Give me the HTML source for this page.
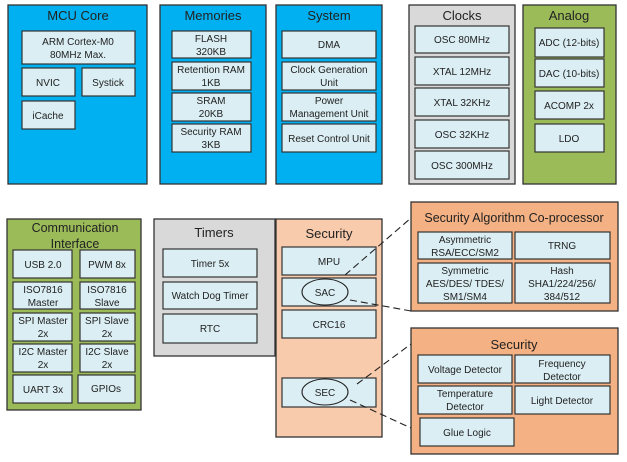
<!DOCTYPE html>
<html><head><style>body{margin:0;background:#fff}svg{display:block}text{font-family:"Liberation Sans",sans-serif;fill:#222}</style></head><body>
<svg width="627" height="462" viewBox="0 0 627 462" xmlns="http://www.w3.org/2000/svg">
<g stroke="#333" stroke-width="1.3">
<rect x="8" y="5" width="139" height="179" fill="#00b0f0"/>
<rect x="160" y="5" width="106" height="179" fill="#00b0f0"/>
<rect x="276" y="5" width="106" height="179" fill="#00b0f0"/>
<rect x="409" y="5" width="106" height="179" fill="#d9d9d9"/>
<rect x="523" y="5" width="93" height="179" fill="#9bbb59"/>
<rect x="7" y="219" width="134" height="191" fill="#9bbb59"/>
<rect x="154" y="219" width="121" height="137" fill="#d9d9d9"/>
<rect x="276" y="219" width="106" height="218" fill="#f8cbad"/>
<rect x="411" y="202" width="207" height="109" fill="#f4b183"/>
<rect x="411" y="328" width="207" height="126" fill="#f4b183"/>
</g>
<g stroke="#333" stroke-width="1.2" fill="#daeef3">
<rect x="22" y="31" width="113" height="33"/><rect x="22" y="68" width="53" height="28"/><rect x="82" y="68" width="53" height="28"/><rect x="22" y="101" width="53" height="28"/>
<rect x="172" y="31" width="79" height="27"/><rect x="172" y="62" width="79" height="28"/><rect x="172" y="93" width="79" height="28"/><rect x="172" y="124" width="79" height="28"/>
<rect x="282" y="31" width="94" height="27"/><rect x="282" y="62" width="94" height="28"/><rect x="282" y="93" width="94" height="28"/><rect x="282" y="124" width="94" height="28"/>
<rect x="415" y="26" width="94" height="27"/><rect x="415" y="57" width="94" height="28"/><rect x="415" y="88" width="94" height="28"/><rect x="415" y="120" width="94" height="28"/><rect x="415" y="151" width="94" height="28"/>
<rect x="535" y="28" width="69" height="29"/><rect x="535" y="59" width="69" height="28"/><rect x="535" y="91" width="69" height="28"/><rect x="535" y="124" width="69" height="28"/>
<rect x="13" y="250" width="59" height="28"/><rect x="80" y="250" width="55" height="28"/><rect x="13" y="282" width="59" height="27"/><rect x="80" y="282" width="55" height="27"/><rect x="13" y="313" width="59" height="28"/><rect x="80" y="313" width="55" height="28"/><rect x="13" y="344" width="59" height="28"/><rect x="80" y="344" width="55" height="28"/><rect x="13" y="375" width="59" height="28"/><rect x="78" y="375" width="57" height="28"/>
<rect x="163" y="249" width="94" height="28"/><rect x="163" y="282" width="94" height="27"/><rect x="163" y="314" width="94" height="29"/>
<rect x="282" y="247" width="94" height="28"/><rect x="282" y="278" width="94" height="28"/><rect x="282" y="310" width="94" height="28"/><rect x="282" y="378" width="94" height="29"/>
<rect x="418" y="232" width="94" height="27"/><rect x="515" y="232" width="95" height="27"/><rect x="418" y="263" width="94" height="40"/><rect x="515" y="263" width="95" height="40"/>
<rect x="418" y="355" width="94" height="28"/><rect x="515" y="355" width="95" height="28"/><rect x="418" y="386" width="94" height="28"/><rect x="515" y="386" width="95" height="28"/><rect x="420" y="418" width="94" height="28"/>
</g>
<g stroke="#222" stroke-width="1.1" fill="none">
<ellipse cx="325" cy="292" rx="23" ry="13"/><ellipse cx="325" cy="392" rx="23" ry="13"/>
<g stroke-dasharray="7,4"><line x1="345" y1="275" x2="411" y2="218"/><line x1="350" y1="300" x2="411" y2="311"/><line x1="357" y1="384" x2="411" y2="344"/><line x1="350" y1="400" x2="411" y2="428"/></g>
</g>
<g font-size="13" text-anchor="middle">
<text x="78" y="20">MCU Core</text><text x="213" y="20">Memories</text><text x="329" y="20">System</text><text x="462" y="20">Clocks</text><text x="569" y="20">Analog</text>
<text x="75" y="232" font-size="12.5">Communication</text><text x="75" y="248" font-size="12.5">Interface</text>
<text x="214" y="237">Timers</text><text x="329" y="238">Security</text>
<text x="514" y="222" font-size="12.5">Security Algorithm Co-processor</text><text x="514" y="349">Security</text>
</g>
<g font-size="10" text-anchor="middle">
<text x="78" y="45">ARM Cortex-M0</text><text x="78" y="58">80MHz Max.</text><text x="48" y="86">NVIC</text><text x="108" y="86">Systick</text><text x="48" y="119">iCache</text>
<text x="211" y="42">FLASH</text><text x="211" y="55">320KB</text><text x="211" y="73">Retention RAM</text><text x="211" y="86">1KB</text><text x="211" y="104">SRAM</text><text x="211" y="117">20KB</text><text x="211" y="135">Security RAM</text><text x="211" y="148">3KB</text>
<text x="329" y="48">DMA</text><text x="329" y="73">Clock Generation</text><text x="329" y="86">Unit</text><text x="329" y="104">Power</text><text x="329" y="117">Management Unit</text><text x="329" y="142">Reset Control Unit</text>
<text x="462" y="43">OSC 80MHz</text><text x="462" y="75">XTAL 12MHz</text><text x="462" y="106">XTAL 32KHz</text><text x="462" y="138">OSC 32KHz</text><text x="462" y="169">OSC 300MHz</text>
<text x="569" y="46">ADC (12-bits)</text><text x="569" y="77">DAC (10-bits)</text><text x="569" y="109">ACOMP 2x</text><text x="569" y="142">LDO</text>
<text x="43" y="268">USB 2.0</text><text x="107" y="268">PWM 8x</text><text x="43" y="293">ISO7816</text><text x="43" y="306">Master</text><text x="107" y="293">ISO7816</text><text x="107" y="306">Slave</text>
<text x="43" y="324">SPI Master</text><text x="43" y="337">2x</text><text x="107" y="324">SPI Slave</text><text x="107" y="337">2x</text>
<text x="43" y="355">I2C Master</text><text x="43" y="368">2x</text><text x="107" y="355">I2C Slave</text><text x="107" y="368">2x</text>
<text x="43" y="393">UART 3x</text><text x="106" y="392">GPIOs</text>
<text x="210" y="267">Timer 5x</text><text x="210" y="299">Watch Dog Timer</text><text x="210" y="332">RTC</text>
<text x="329" y="265">MPU</text><text x="325" y="296">SAC</text><text x="329" y="328">CRC16</text><text x="325" y="396">SEC</text>
<text x="465" y="243">Asymmetric</text><text x="465" y="256">RSA/ECC/SM2</text><text x="562" y="249">TRNG</text>
<text x="465" y="274">Symmetric</text><text x="465" y="287">AES/DES/ TDES/</text><text x="465" y="300">SM1/SM4</text>
<text x="562" y="274">Hash</text><text x="562" y="287">SHA1/224/256/</text><text x="562" y="300">384/512</text>
<text x="465" y="373">Voltage Detector</text><text x="562" y="367">Frequency</text><text x="562" y="380">Detector</text>
<text x="465" y="397">Temperature</text><text x="465" y="410">Detector</text><text x="562" y="404">Light Detector</text><text x="467" y="436">Glue Logic</text>
</g>
</svg>
</body></html>
